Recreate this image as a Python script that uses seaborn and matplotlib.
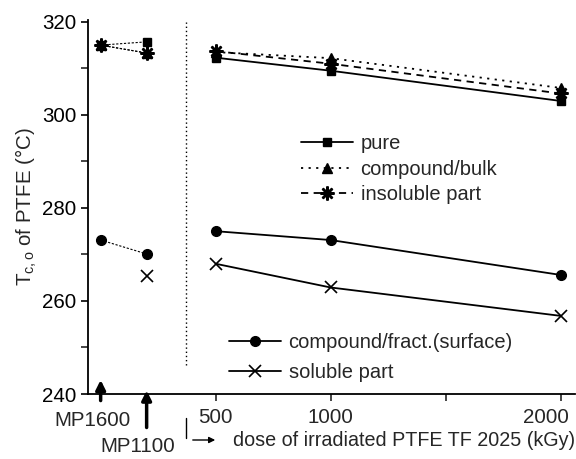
import numpy as np
import pandas as pd
import matplotlib
matplotlib.use("Agg")
import matplotlib.pyplot as plt
import matplotlib.transforms as mtransforms
import seaborn as sns
from matplotlib.lines import Line2D

# positions of the reference powders on the dose axis
mp_labels = ["MP1600", "MP1100"]
mp_pos = [0, 200]

dose = [500, 1000, 2000]

# crystallisation onset temperatures (°C)
pure_mp = [315.0, 315.7]
bulk_mp = [315.0, 313.3]
insol_mp = [315.0, 313.3]
surf_mp = [273.1, 270.1]
sol_mp = [265.4]  # only MP1100

pure_dose = [312.3, 309.5, 303.0]
bulk_dose = [313.5, 312.2, 305.8]
insol_dose = [313.7, 311.0, 304.6]
surf_dose = [275.0, 273.1, 265.6]
sol_dose = [268.0, 262.9, 256.8]

star = (8, 2, 0)

sns.set_theme(style="ticks")
plt.rcParams["font.family"] = ["Liberation Sans", "DejaVu Sans"]
plt.rcParams["mathtext.fontset"] = "custom"
plt.rcParams["mathtext.rm"] = "Liberation Sans"
plt.rcParams["mathtext.it"] = "Liberation Sans"
FS = 14.8
LFS = 14.5

fig = plt.figure(figsize=(5.76, 4.59), dpi=100)
ax = fig.add_axes([88 / 576, 1 - 394 / 459, 487 / 576, 374 / 459])

df = pd.DataFrame({
    "dose": dose * 5,
    "T": pure_dose + bulk_dose + insol_dose + surf_dose + sol_dose,
    "series": ["pure"] * 3 + ["bulk"] * 3 + ["insol"] * 3 + ["surf"] * 3 + ["sol"] * 3,
})

styles = {
    "pure": dict(marker="s", linestyle="-", ms=6, mew=1),
    "bulk": dict(marker="^", linestyle=(0, (1.2, 3)), ms=7, mew=1),
    "insol": dict(marker=star, linestyle=(0, (4, 3)), ms=10, mew=1.8),
    "surf": dict(marker="o", linestyle="-", ms=7, mew=1),
    "sol": dict(marker="x", linestyle="-", ms=8, mew=1.2),
}

for name, st in styles.items():
    sub = df[df["series"] == name]
    sns.lineplot(data=sub, x="dose", y="T", ax=ax, color="black", lw=1.3,
                 marker=st["marker"], linestyle=st["linestyle"], markersize=st["ms"],
                 markeredgewidth=st["mew"], markeredgecolor="black", markerfacecolor="black")

# reference powders joined by thin dotted lines
for vals, name in [(pure_mp, "pure"), (bulk_mp, "bulk"), (insol_mp, "insol"), (surf_mp, "surf")]:
    st = styles[name]
    ax.plot(mp_pos, vals, color="black", lw=0.8, linestyle=(0, (2, 1.5)),
            marker=st["marker"], ms=st["ms"], mew=st["mew"], mfc="black", mec="black")
ax.plot(mp_pos[1:], sol_mp, color="black", lw=0, marker="x", ms=8, mew=1.2)

# separator between reference powders and irradiated series
ax.axvline(370, ymin=0.078, ymax=0.995, color="black", lw=1, linestyle=(0, (1, 2)))

ax.set_xlim(-55, 2063)
ax.set_ylim(240, 320.4)
ax.set_xticks(dose)
ax.set_xticklabels([str(d) for d in dose], fontsize=FS)
ax.set_xticks([1500], minor=True)
ax.set_yticks([240, 260, 280, 300, 320])
ax.set_yticks([250, 270, 290, 310], minor=True)
ax.tick_params(axis="y", labelsize=FS, direction="out", length=5, width=1.2, colors="black")
ax.tick_params(axis="y", which="minor", length=5, width=1.2)
ax.tick_params(axis="x", direction="out", length=5, width=1.2, pad=5)
ax.tick_params(axis="x", which="minor", length=5, width=1.2)
# the last dose label sits a little left of its tick
last = ax.get_xticklabels()[-1]
last.set_transform(last.get_transform() + mtransforms.ScaledTranslation(-0.15, 0, fig.dpi_scale_trans))
ax.set_xlabel("")
ax.set_ylabel("T$_{\\mathregular{c,o}}$ of PTFE (°C)", fontsize=FS, labelpad=2)
for s in ["top", "right"]:
    ax.spines[s].set_visible(False)
for s in ["left", "bottom"]:
    ax.spines[s].set_linewidth(1.3)
    ax.spines[s].set_color("black")

# legends
h1 = [Line2D([], [], color="black", lw=1.3, linestyle=styles[k]["linestyle"],
             marker=styles[k]["marker"], ms=styles[k]["ms"], mew=styles[k]["mew"], mfc="black")
      for k in ["pure", "bulk", "insol"]]
fig.legend(h1, ["pure", "compound/bulk", "insoluble part"], loc="upper left",
           bbox_to_anchor=(283 / 576, 1 - 116 / 459), frameon=False, fontsize=LFS,
           handlelength=2.6, handletextpad=0.35, labelspacing=0.33)
h2 = [Line2D([], [], color="black", lw=1.3, linestyle="-",
             marker=styles[k]["marker"], ms=styles[k]["ms"], mew=styles[k]["mew"], mfc="black")
      for k in ["surf", "sol"]]
fig.legend(h2, ["compound/fract.(surface)", "soluble part"], loc="upper left",
           bbox_to_anchor=(211 / 576, 1 - 315 / 459), frameon=False, fontsize=LFS,
           handlelength=2.6, handletextpad=0.35, labelspacing=0.55)

# arrows marking the reference powders
ax.annotate("", xy=(mp_pos[0], 0.045), xytext=(mp_pos[0], -0.025), xycoords=("data", "axes fraction"),
            textcoords=("data", "axes fraction"), annotation_clip=False,
            arrowprops=dict(arrowstyle="-|>", color="black", lw=2.5, mutation_scale=14))
ax.annotate("", xy=(mp_pos[1], 0.017), xytext=(mp_pos[1], -0.097), xycoords=("data", "axes fraction"),
            textcoords=("data", "axes fraction"), annotation_clip=False,
            arrowprops=dict(arrowstyle="-|>", color="black", lw=2.5, mutation_scale=14))
fig.text(92 / 576, 1 - 420 / 459, mp_labels[0], ha="center", va="center", fontsize=FS)
fig.text(138 / 576, 1 - 447 / 459, mp_labels[1], ha="center", va="center", fontsize=FS)

# x label with leading marker and arrow
fig.add_artist(Line2D([186 / 576, 186 / 576], [1 - 418 / 459, 1 - 438 / 459], color="black", lw=1))
fig.add_artist(matplotlib.patches.FancyArrowPatch((190 / 576, 1 - 440 / 459), (218 / 576, 1 - 440 / 459),
                                                  transform=fig.transFigure, arrowstyle="-|>",
                                                  mutation_scale=9, color="black", lw=1))
fig.text(233 / 576, 1 - 440 / 459, "dose of irradiated PTFE TF 2025 (kGy)", ha="left", va="center",
         fontsize=14.2)

fig.savefig("out.png", dpi=100)
